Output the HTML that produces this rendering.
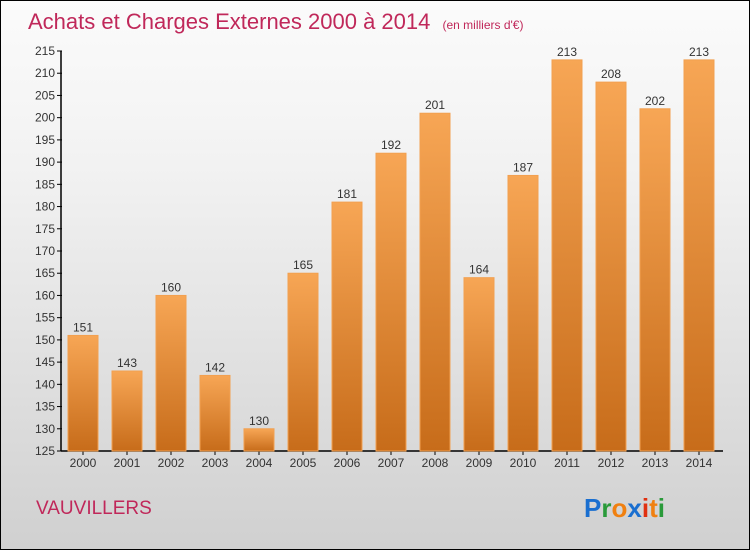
<!DOCTYPE html>
<html><head><meta charset="utf-8"><style>
body{margin:0}
#c{position:relative;width:748px;height:548px;border:1px solid #000;background:linear-gradient(#fbfbfb,#f2f2f2 30%,#d0d0d0);font-family:"Liberation Sans",sans-serif;overflow:hidden}
</style></head><body>
<div id="c">
<svg width="748" height="548">
<defs><linearGradient id="bg" x1="0" y1="0" x2="0" y2="1"><stop offset="0" stop-color="#f7a655"/><stop offset="1" stop-color="#c76c1a"/></linearGradient></defs>
<text x="27" y="28" font-size="22" fill="#c0285a">Achats et Charges Externes 2000 à 2014 <tspan font-size="12" dx="6">(en milliers d'€)</tspan></text>
<g id="axes"></g><g id="bars"></g>
<text x="35" y="513" font-size="19" fill="#c0285a">VAUVILLERS</text>
<text x="583" y="516" font-size="26" font-weight="bold"><tspan fill="#1a6fd0">P</tspan><tspan fill="#2a9a3a">r</tspan><tspan fill="#f08010">o</tspan><tspan fill="#1a6fd0">x</tspan><tspan fill="#e03010">i</tspan><tspan fill="#f08010">t</tspan><tspan fill="#2a9a3a">i</tspan></text>
</svg></div>
<script>
const years=["2000","2001","2002","2003","2004","2005","2006","2007","2008","2009","2010","2011","2012","2013","2014"];
const values=[151,143,160,142,130,165,181,192,201,164,187,213,208,202,213];
const ticks=[125,130,135,140,145,150,155,160,165,170,175,180,185,190,195,200,205,210,215];
const NS="http://www.w3.org/2000/svg";
const y=v=>450-(v-125)*400/90, x=i=>82+i*44;
function mk(t,a,p){const e=document.createElementNS(NS,t);for(const k in a)e.setAttribute(k,a[k]);p.appendChild(e);return e;}
const ax=document.getElementById('axes'), bs=document.getElementById('bars');
let l=mk('line',{x1:60,y1:50,x2:60,y2:450,stroke:'#000','stroke-width':1.5},ax);


l=mk('line',{x1:60,y1:450,x2:722,y2:450,stroke:'#000','stroke-width':1.5},ax);


ticks.forEach(t=>{mk('line',{x1:56,x2:61,y1:y(t),y2:y(t),stroke:'#000'},ax);
const e=mk('text',{x:54,y:y(t)+4,'font-size':12,fill:'#333','text-anchor':'end'},ax);e.textContent=t;

});
years.forEach((yr,i)=>{const v=values[i];
const r=mk('rect',{x:x(i)-15,y:y(v),width:30,height:450-y(v),fill:'url(#bg)',stroke:'#f2a050','stroke-width':1},bs);


const lb=mk('text',{x:x(i),y:y(v)-4,'font-size':12,fill:'#333','text-anchor':'middle'},bs);lb.textContent=v;


const xl=mk('text',{x:x(i),y:466,'font-size':12,fill:'#333','text-anchor':'middle'},bs);xl.textContent=yr;


mk('line',{x1:x(i),x2:x(i),y1:450,y2:454,stroke:'#000'},ax);});
</script></body></html>
